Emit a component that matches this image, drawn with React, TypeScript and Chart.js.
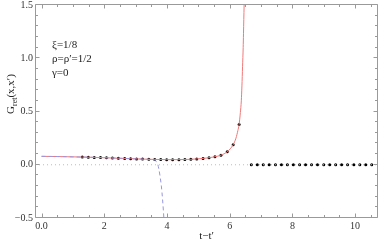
import React, { useEffect, useRef } from "react";
import { Chart, registerables } from "chart.js";

Chart.register(...registerables);

// ---- data ----
const redX = [0, 0.5, 1, 1.3, 1.68, 2.07, 2.45, 2.84, 3.22, 3.61, 3.99, 4.38, 4.76, 4.95, 5.15, 5.34, 5.53, 5.72, 5.92, 6.11, 6.2, 6.26, 6.3, 6.34, 6.37, 6.39, 6.41, 6.43, 6.44, 6.46, 6.48];
const redY = [0.079, 0.077, 0.074, 0.072, 0.069, 0.065, 0.061, 0.057, 0.053, 0.05, 0.048, 0.048, 0.051, 0.055, 0.059, 0.066, 0.075, 0.09, 0.122, 0.188, 0.25, 0.32, 0.378, 0.49, 0.6, 0.74, 0.92, 1.1, 1.23, 1.5, 1.8];

const blueX = [0, 0.5, 1, 1.5, 2, 2.5, 3, 3.3, 3.5, 3.6, 3.66, 3.7, 3.74, 3.78, 3.82, 3.86, 3.9, 3.92];
const blueY = [0.079, 0.077, 0.074, 0.071, 0.066, 0.061, 0.055, 0.052, 0.049, 0.043, 0.03, 0.01, -0.04, -0.11, -0.2, -0.33, -0.5, -0.6];

const dotsLeftX = [1.3, 1.49, 1.68, 1.88, 2.07, 2.26, 2.45, 2.65, 2.84, 3.03, 3.22, 3.42, 3.61, 3.8, 3.99, 4.18, 4.38, 4.57, 4.76, 4.95, 5.15, 5.34, 5.53, 5.72, 5.92, 6.11, 6.3];
const dotsLeftY = [0.072, 0.071, 0.069, 0.067, 0.065, 0.063, 0.061, 0.059, 0.057, 0.055, 0.053, 0.051, 0.05, 0.049, 0.048, 0.048, 0.048, 0.049, 0.051, 0.055, 0.059, 0.066, 0.075, 0.09, 0.122, 0.188, 0.378];

const dotsRightX = [6.69, 6.88, 7.07, 7.26, 7.46, 7.65, 7.84, 8.03, 8.23, 8.42, 8.61, 8.8, 9.0, 9.19, 9.38, 9.57, 9.76, 9.96, 10.15, 10.34, 10.53];
const dotsRightY = [0, 0, 0, 0, 0, 0, 0, 0, 0, 0, 0, 0, 0, 0, 0, 0, 0, 0, 0, 0, 0];

const zeroLineX = [-0.21, 10.73];
const zeroLineY = [0, 0];

const xTickValues = [0, 2, 4, 6, 8, 10];
const yTickValues = [-0.5, 0, 0.5, 1, 1.5];
const annotations = ["ξ=1/8", "ρ=ρ′=1/2", "γ=0"];

const X_MIN = -0.21;
const X_MAX = 10.73;
const Y_MIN = -0.5;
const Y_MAX = 1.5;

const SERIF = "Liberation Serif, Times New Roman, DejaVu Serif, serif";

const pts = (xs: number[], ys: number[]) => xs.map((x, i) => ({ x, y: ys[i] }));

const fmt = (v: number) => {
  const s = Math.abs(v).toFixed(v === Math.round(v) && Math.abs(v) >= 2 ? 0 : 1);
  return v < 0 ? "−" + s : s;
};

const framePlugin = {
  id: "framePlugin",
  afterDraw(chart: any) {
    const { ctx, chartArea } = chart;
    const xs = chart.scales.x;
    const ys = chart.scales.y;
    const L = Math.round(chartArea.left) + 0.5;
    const R = Math.round(chartArea.right) - 0.5;
    const T = Math.round(chartArea.top) - 0.5;
    const B = Math.round(chartArea.bottom) - 0.5;
    ctx.save();
    ctx.strokeStyle = "#9a9a9a";
    ctx.lineWidth = 1;
    ctx.beginPath();
    ctx.rect(L, T, R - L, B - T);
    ctx.stroke();
    ctx.beginPath();
    for (let i = 0; i <= 21; i++) {
      const v = i * 0.5;
      if (v > X_MAX) break;
      const px = Math.round(xs.getPixelForValue(v)) + 0.5;
      const len = i % 4 === 0 ? 4 : 2.5;
      ctx.moveTo(px, B);
      ctx.lineTo(px, B - len);
      ctx.moveTo(px, T);
      ctx.lineTo(px, T + len);
    }
    for (let i = 0; i <= 20; i++) {
      const v = Y_MIN + i * 0.1;
      const py = Math.round(ys.getPixelForValue(v)) - 0.5;
      const len = i % 5 === 0 ? 4 : 2.5;
      ctx.moveTo(L, py);
      ctx.lineTo(L + len, py);
      ctx.moveTo(R, py);
      ctx.lineTo(R - len, py);
    }
    ctx.stroke();

    // y-axis title with subscript
    ctx.fillStyle = "#222";
    ctx.textBaseline = "alphabetic";
    const big = "11px " + SERIF;
    const small = "8px " + SERIF;
    ctx.font = big;
    const wG = ctx.measureText("G").width;
    const wP = ctx.measureText("(x,x′)").width;
    ctx.font = small;
    const wS = ctx.measureText("ret").width;
    const total = wG + wS + wP;
    ctx.translate(14, 94);
    ctx.rotate(-Math.PI / 2);
    let x0 = -total / 2;
    ctx.font = big;
    ctx.fillText("G", x0, 0);
    x0 += wG;
    ctx.font = small;
    ctx.fillText("ret", x0, 2.5);
    x0 += wS;
    ctx.font = big;
    ctx.fillText("(x,x′)", x0, 0);
    ctx.restore();

    // annotations
    ctx.save();
    ctx.fillStyle = "#222";
    ctx.font = "11px " + SERIF;
    ctx.textBaseline = "middle";
    annotations.forEach((t, i) => {
      ctx.fillText(t, 52, 45 + i * 14);
    });
    ctx.restore();
  },
};

export default function App() {
  const ref = useRef<HTMLCanvasElement | null>(null);
  useEffect(() => {
    if (!ref.current) return;
    const chart = new Chart(ref.current, {
      type: "line",
      data: {
        datasets: [
          {
            data: pts(zeroLineX, zeroLineY),
            borderColor: "#bdbdbd",
            borderWidth: 1,
            borderDash: [1, 3],
            pointRadius: 0,
          },
          {
            data: pts(blueX, blueY),
            borderColor: "rgb(150,150,225)",
            borderWidth: 1,
            borderDash: [4, 3],
            pointRadius: 0,
            cubicInterpolationMode: "monotone",
          },
          {
            data: pts(redX, redY),
            borderColor: "rgb(242,120,120)",
            borderWidth: 1,
            pointRadius: 0,
            cubicInterpolationMode: "monotone",
          },
          {
            data: pts(dotsLeftX, dotsLeftY),
            showLine: false,
            pointRadius: 1.5,
            pointBorderWidth: 0,
            pointBackgroundColor: "#000",
          },
          {
            data: pts(dotsRightX, dotsRightY),
            showLine: false,
            pointRadius: 1.5,
            pointBorderWidth: 0,
            pointBackgroundColor: "#000",
          },
        ],
      },
      options: {
        animation: false,
        responsive: false,
        maintainAspectRatio: false,
        layout: { padding: { top: 5, right: 1, left: 0, bottom: 0 } },
        plugins: { legend: { display: false }, tooltip: { enabled: false } },
        scales: {
          x: {
            type: "linear",
            min: X_MIN,
            max: X_MAX,
            afterFit: (s: any) => {
              s.height = 26;
              s.paddingLeft = 0;
              s.paddingRight = 0;
            },
            afterBuildTicks: (s: any) => {
              s.ticks = xTickValues.map((v) => ({ value: v }));
            },
            grid: { display: false, drawTicks: false, tickLength: 0 },
            border: { display: false },
            ticks: {
              padding: 2,
              maxRotation: 0,
              autoSkip: false,
              color: "#333",
              font: { family: SERIF, size: 10 },
              callback: (v: any) => fmt(Number(v)),
            },
            title: {
              display: true,
              text: "t−t′",
              color: "#222",
              font: { family: SERIF, size: 11 },
              padding: { top: 0, bottom: 1 },
            },
          },
          y: {
            type: "linear",
            min: Y_MIN,
            max: Y_MAX,
            afterFit: (s: any) => {
              s.width = 35;
              s.paddingTop = 0;
              s.paddingBottom = 0;
            },
            afterBuildTicks: (s: any) => {
              s.ticks = yTickValues.map((v) => ({ value: v }));
            },
            grid: { display: false, drawTicks: false, tickLength: 0 },
            border: { display: false },
            ticks: {
              padding: 2,
              autoSkip: false,
              color: "#333",
              font: { family: SERIF, size: 10 },
              callback: (v: any) => fmt(Number(v)),
            },
          },
        },
      },
      plugins: [framePlugin],
    } as any);
    return () => chart.destroy();
  }, []);
  return (
    <div style={{ position: "absolute", left: 0, top: 0, width: 382, height: 244 }}>
      <canvas ref={ref} width={382} height={244} style={{ display: "block" }} />
    </div>
  );
}
